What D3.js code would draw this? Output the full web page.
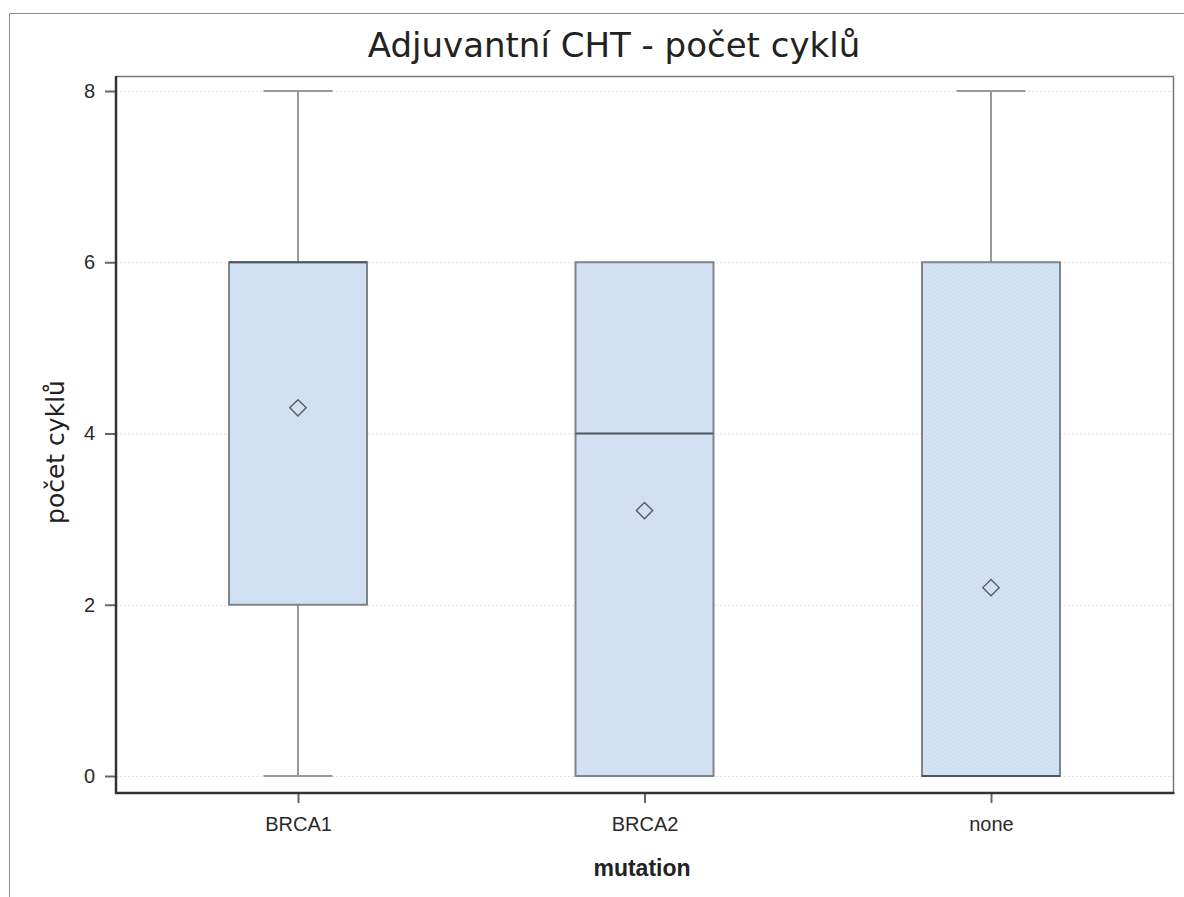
<!DOCTYPE html>
<html>
<head>
<meta charset="utf-8">
<script src="https://cdn.jsdelivr.net/npm/d3@7"></script>
<style>
  body { margin: 0; background: #fff; }
  svg { display: block; }
</style>
</head>
<body>
<div id="chart"></div>
<script>
const categories = ['BRCA1', 'BRCA2', 'none'];
const minValues = [0, 0, 0];
const q1Values = [2, 0, 0];
const medianValues = [6, 4, 0];
const q3Values = [6, 6, 6];
const maxValues = [8, 6, 8];
const meanValues = [4.3, 3.1, 2.2];
const yTicks = [0, 2, 4, 6, 8];

const width = 1184, height = 897;
const plot = { left: 116, top: 76, right: 1173, bottom: 793 };

const svg = d3.select('#chart').append('svg')
    .attr('width', width)
    .attr('height', height);

const defs = svg.append('defs');
const pat = defs.append('pattern')
    .attr('id', 'hatch')
    .attr('width', 4).attr('height', 4)
    .attr('patternUnits', 'userSpaceOnUse');
pat.append('rect').attr('width', 4).attr('height', 4).attr('fill', '#d4e3f5');
pat.append('path').attr('d', 'M0,0L4,4M4,0L0,4')
    .attr('stroke', '#c9daee').attr('stroke-width', 0.6);

// outer frame
svg.append('path')
    .attr('d', `M9.5,${height}V13.5H${width}`)
    .attr('fill', 'none')
    .attr('stroke', '#8a8a8a')
    .attr('stroke-width', 1);

const y = d3.scaleLinear().domain([0, 8]).range([776, 91]);
const x = d3.scalePoint().domain(categories).range([298, 991]);
const boxW = 138;

// grid lines
svg.append('g').selectAll('line').data(yTicks).join('line')
    .attr('x1', plot.left).attr('x2', plot.right)
    .attr('y1', d => y(d) + 0.5).attr('y2', d => y(d) + 0.5)
    .attr('stroke', '#e2e2e2')
    .attr('stroke-dasharray', '2,2');

// plot frame (top/right thin)
svg.append('path')
    .attr('d', `M${plot.left},${plot.top + 0.5}H${plot.right + 0.5}V${plot.bottom}`)
    .attr('fill', 'none')
    .attr('stroke', '#777')
    .attr('stroke-width', 1.5);

const boxes = svg.append('g').selectAll('g').data(categories).join('g')
    .attr('transform', d => `translate(${x(d)},0)`);

boxes.each(function (d, i) {
    const g = d3.select(this);
    const wc = '#999';
    if (maxValues[i] > q3Values[i]) {
        g.append('line').attr('x1', 0).attr('x2', 0)
            .attr('y1', y(maxValues[i])).attr('y2', y(q3Values[i]))
            .attr('stroke', wc).attr('stroke-width', 2);
        g.append('line').attr('x1', -boxW / 4).attr('x2', boxW / 4)
            .attr('y1', y(maxValues[i])).attr('y2', y(maxValues[i]))
            .attr('stroke', wc).attr('stroke-width', 2);
    }
    if (minValues[i] < q1Values[i]) {
        g.append('line').attr('x1', 0).attr('x2', 0)
            .attr('y1', y(q1Values[i])).attr('y2', y(minValues[i]))
            .attr('stroke', wc).attr('stroke-width', 2);
        g.append('line').attr('x1', -boxW / 4).attr('x2', boxW / 4)
            .attr('y1', y(minValues[i])).attr('y2', y(minValues[i]))
            .attr('stroke', wc).attr('stroke-width', 2);
    }
    g.append('rect')
        .attr('x', -boxW / 2)
        .attr('y', y(q3Values[i]))
        .attr('width', boxW)
        .attr('height', y(q1Values[i]) - y(q3Values[i]))
        .attr('fill', 'url(#hatch)')
        .attr('stroke', '#7e848b')
        .attr('stroke-width', 2);
    g.append('line').attr('x1', -boxW / 2).attr('x2', boxW / 2)
        .attr('y1', y(medianValues[i])).attr('y2', y(medianValues[i]))
        .attr('stroke', '#4e565e').attr('stroke-width', 2);
    g.append('path')
        .attr('d', d3.symbol(d3.symbolDiamond2, 170)())
        .attr('transform', `translate(0,${y(meanValues[i])})`)
        .attr('fill', 'none')
        .attr('stroke', '#555b62')
        .attr('stroke-width', 1.4);
});

const tickFont = 'Liberation Sans, Arial, sans-serif';

const yAxis = svg.append('g')
    .attr('transform', `translate(${plot.left},0)`)
    .call(d3.axisLeft(y).tickValues(yTicks).tickSize(11).tickPadding(10).tickFormat(d3.format('d')));
yAxis.select('.domain').remove();
yAxis.selectAll('.tick line').attr('stroke', '#666').attr('stroke-width', 2);
yAxis.selectAll('text').attr('font-family', tickFont)
    .attr('font-size', 20).attr('fill', '#2a2a2a');

const xAxis = svg.append('g')
    .attr('transform', `translate(0,${plot.bottom})`)
    .call(d3.axisBottom(x).tickSize(10).tickPadding(14));
xAxis.select('.domain').remove();
xAxis.selectAll('.tick line').attr('stroke', '#666').attr('stroke-width', 2);
xAxis.selectAll('text').attr('font-family', tickFont)
    .attr('font-size', 20).attr('fill', '#2a2a2a');

// left & bottom axis lines (thick)
svg.append('path')
    .attr('d', `M${plot.left},${plot.top}V${plot.bottom}H${plot.right + 1.5}`)
    .attr('fill', 'none')
    .attr('stroke', '#333')
    .attr('stroke-width', 2.5);

svg.append('text')
    .attr('x', 614).attr('y', 57)
    .attr('text-anchor', 'middle')
    .attr('font-family', 'DejaVu Sans, Verdana, sans-serif')
    .attr('font-size', 34)
    .attr('fill', '#222')
    .text('Adjuvantní CHT - počet cyklů');

svg.append('text')
    .attr('transform', `translate(64,452) rotate(-90)`)
    .attr('text-anchor', 'middle')
    .attr('font-family', 'DejaVu Sans, Verdana, sans-serif')
    .attr('font-size', 25)
    .attr('fill', '#222')
    .text('počet cyklů');

svg.append('text')
    .attr('x', 642).attr('y', 876)
    .attr('text-anchor', 'middle')
    .attr('font-family', tickFont)
    .attr('font-weight', 'bold')
    .attr('font-size', 23)
    .attr('fill', '#222')
    .text('mutation');
</script>
</body>
</html>
